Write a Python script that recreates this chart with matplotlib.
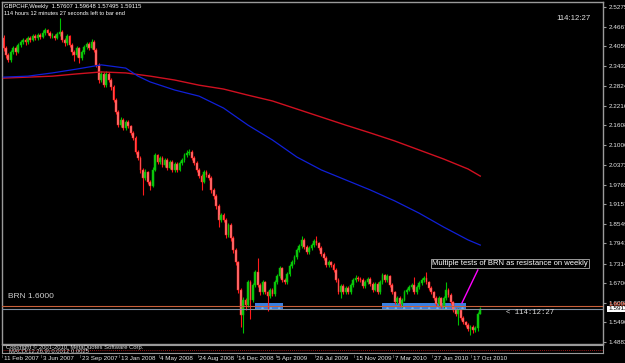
import matplotlib
matplotlib.use("Agg")
import matplotlib.pyplot as plt
import matplotlib.transforms as mtransforms
from matplotlib.patches import Rectangle
import numpy as np

plt.rcParams["hatch.linewidth"] = 0.5

# ---------------- data ----------------
symbol_line = "GBPCHF,Weekly  1.57607 1.59648 1.57495 1.59115"
timer_line = "114 hours 12 minutes 27 seconds left to bar end"
timer_short = "114:12:27"
copyright_line = "Copyright \u00a9 2001-2010, MetaQuotes Software Corp."
macd_line = "MACD(12,26,9) 0.0012 0.0025"

first_open = 2.430
closes = [
    2.400, 2.379, 2.363, 2.388, 2.400, 2.388, 2.410, 2.419, 2.425, 2.419,
    2.431, 2.425, 2.437, 2.431, 2.441, 2.434, 2.447, 2.456, 2.447, 2.437,
    2.438, 2.431, 2.444, 2.450, 2.425, 2.416, 2.437, 2.410, 2.388, 2.379,
    2.400, 2.369, 2.388, 2.403, 2.413, 2.400, 2.419, 2.394, 2.348, 2.301,
    2.320, 2.286, 2.320, 2.301, 2.279, 2.239, 2.202, 2.162, 2.177, 2.152,
    2.171, 2.158, 2.137, 2.121, 2.078, 2.059, 2.022, 1.997, 2.016, 1.985,
    1.972, 2.022, 2.068, 2.047, 2.059, 2.037, 2.053, 2.028, 2.047, 2.022,
    2.041, 2.022, 2.044, 2.053, 2.068, 2.075, 2.078, 2.059, 2.044, 2.022,
    2.003, 1.985, 2.016, 2.006, 1.997, 1.960, 1.941, 1.910, 1.867, 1.882,
    1.867, 1.820, 1.851, 1.811, 1.774, 1.736, 1.650, 1.572, 1.619, 1.603,
    1.674, 1.619, 1.665, 1.705, 1.665, 1.643, 1.674, 1.643, 1.631, 1.650,
    1.637, 1.674, 1.693, 1.718, 1.681, 1.674, 1.699, 1.724, 1.736, 1.752,
    1.774, 1.786, 1.805, 1.783, 1.768, 1.780, 1.789, 1.802, 1.795, 1.780,
    1.761, 1.749, 1.727, 1.736, 1.727, 1.712, 1.681, 1.643, 1.662, 1.643,
    1.656, 1.643, 1.665, 1.681, 1.687, 1.684, 1.681, 1.662, 1.674, 1.684,
    1.668, 1.650, 1.668, 1.643, 1.674, 1.696, 1.681, 1.693, 1.665, 1.643,
    1.612, 1.625, 1.606, 1.619, 1.643, 1.650, 1.659, 1.665, 1.643, 1.659,
    1.671, 1.681, 1.687, 1.674, 1.656, 1.643, 1.625, 1.606, 1.625, 1.600,
    1.625, 1.650, 1.634, 1.612, 1.588, 1.575, 1.587, 1.563, 1.550, 1.541,
    1.530, 1.536, 1.527, 1.532, 1.57607, 1.59115,
]
highs = [
    2.441, 2.406, 2.386, 2.394, 2.408, 2.405, 2.416, 2.426, 2.432, 2.430,
    2.437, 2.436, 2.444, 2.443, 2.448, 2.447, 2.455, 2.462, 2.460, 2.452,
    2.446, 2.443, 2.450, 2.493, 2.456, 2.431, 2.444, 2.441, 2.415, 2.394,
    2.408, 2.404, 2.394, 2.409, 2.420, 2.418, 2.428, 2.424, 2.399, 2.353,
    2.330, 2.325, 2.328, 2.327, 2.307, 2.284, 2.244, 2.207, 2.186, 2.182,
    2.178, 2.176, 2.163, 2.142, 2.126, 2.083, 2.064, 2.028, 2.024, 2.020,
    1.990, 2.030, 2.076, 2.073, 2.066, 2.064, 2.060, 2.058, 2.054, 2.052,
    2.048, 2.046, 2.051, 2.060, 2.075, 2.083, 2.087, 2.084, 2.064, 2.049,
    2.027, 2.008, 2.023, 2.022, 2.012, 2.002, 1.966, 1.946, 1.915, 1.890,
    1.888, 1.872, 1.858, 1.856, 1.816, 1.779, 1.741, 1.655, 1.628, 1.626,
    1.682, 1.680, 1.672, 1.712, 1.749, 1.670, 1.680, 1.679, 1.648, 1.657,
    1.656, 1.680, 1.700, 1.725, 1.722, 1.688, 1.705, 1.730, 1.742, 1.759,
    1.780, 1.793, 1.817, 1.810, 1.788, 1.786, 1.796, 1.808, 1.817, 1.800,
    1.785, 1.767, 1.754, 1.743, 1.741, 1.732, 1.717, 1.686, 1.668, 1.667,
    1.662, 1.661, 1.671, 1.688, 1.695, 1.693, 1.690, 1.686, 1.680, 1.690,
    1.689, 1.673, 1.675, 1.673, 1.681, 1.702, 1.700, 1.699, 1.697, 1.670,
    1.648, 1.631, 1.630, 1.626, 1.649, 1.657, 1.665, 1.672, 1.690, 1.665,
    1.677, 1.688, 1.693, 1.705, 1.679, 1.661, 1.648, 1.630, 1.631, 1.629,
    1.631, 1.674, 1.656, 1.639, 1.617, 1.593, 1.593, 1.591, 1.568, 1.555,
    1.546, 1.542, 1.541, 1.538, 1.582, 1.59648,
]
lows = [
    2.392, 2.370, 2.356, 2.358, 2.381, 2.380, 2.384, 2.404, 2.412, 2.411,
    2.414, 2.418, 2.421, 2.424, 2.426, 2.428, 2.430, 2.441, 2.440, 2.431,
    2.430, 2.424, 2.427, 2.438, 2.419, 2.406, 2.410, 2.402, 2.380, 2.360,
    2.372, 2.355, 2.362, 2.383, 2.398, 2.394, 2.396, 2.388, 2.340, 2.292,
    2.294, 2.278, 2.280, 2.294, 2.270, 2.232, 2.195, 2.155, 2.156, 2.145,
    2.147, 2.152, 2.130, 2.115, 2.070, 2.052, 2.014, 1.944, 1.990, 1.978,
    1.960, 1.968, 2.018, 2.040, 2.042, 2.030, 2.032, 2.021, 2.024, 2.016,
    2.017, 2.015, 2.018, 2.038, 2.048, 2.062, 2.068, 2.053, 2.037, 2.015,
    1.996, 1.960, 1.980, 1.999, 1.990, 1.952, 1.933, 1.900, 1.845, 1.860,
    1.860, 1.812, 1.815, 1.803, 1.765, 1.727, 1.640, 1.535, 1.516, 1.588,
    1.598, 1.560, 1.612, 1.660, 1.658, 1.634, 1.638, 1.636, 1.585, 1.626,
    1.630, 1.632, 1.668, 1.688, 1.674, 1.667, 1.669, 1.694, 1.719, 1.730,
    1.747, 1.768, 1.780, 1.776, 1.760, 1.762, 1.774, 1.784, 1.789, 1.773,
    1.754, 1.742, 1.720, 1.722, 1.720, 1.705, 1.674, 1.636, 1.625, 1.636,
    1.638, 1.636, 1.638, 1.660, 1.676, 1.678, 1.675, 1.655, 1.657, 1.669,
    1.661, 1.643, 1.645, 1.636, 1.638, 1.669, 1.675, 1.676, 1.658, 1.636,
    1.605, 1.606, 1.598, 1.598, 1.614, 1.637, 1.645, 1.653, 1.636, 1.638,
    1.654, 1.666, 1.676, 1.668, 1.650, 1.637, 1.618, 1.600, 1.601, 1.594,
    1.595, 1.620, 1.628, 1.606, 1.582, 1.568, 1.541, 1.556, 1.544, 1.535,
    1.524, 1.510, 1.515, 1.518, 1.522, 1.57495,
]

# moving averages sampled at these bars (bar index -> value)
ma_bars = [0, 10, 20, 30, 40, 50, 55, 60, 70, 80, 90, 100, 110, 120, 130,
           140, 150, 160, 170, 180, 190, 195]
ma_fast = [2.310, 2.313, 2.323, 2.335, 2.348, 2.338, 2.313, 2.295, 2.270,
           2.251, 2.214, 2.161, 2.115, 2.062, 2.022, 1.991, 1.960, 1.926,
           1.888, 1.845, 1.805, 1.789]
ma_slow = [2.307, 2.310, 2.313, 2.320, 2.326, 2.323, 2.318, 2.313, 2.301,
           2.285, 2.273, 2.254, 2.236, 2.211, 2.186, 2.161, 2.137, 2.112,
           2.084, 2.056, 2.025, 2.003]

date_labels = ["11 Feb 2007", "3 Jun 2007", "23 Sep 2007", "13 Jan 2008",
               "4 May 2008", "24 Aug 2008", "14 Dec 2008", "5 Apr 2009",
               "26 Jul 2009", "15 Nov 2009", "7 Mar 2010", "27 Jun 2010",
               "17 Oct 2010"]
date_bars = [0, 16, 32, 48, 64, 80, 96, 112, 128, 144, 160, 176, 192]

price_ticks = [2.52750, 2.46670, 2.40590, 2.34320, 2.28240, 2.22160, 2.16080,
               2.10000, 2.03730, 1.97650, 1.91570, 1.85490, 1.79410, 1.73140,
               1.67060, 1.60980, 1.54900, 1.48820]

brn_level = 1.6000
brn_label = "BRN 1.6000"
bid_price = 1.59115
last_open = 1.57607
zones = [(103.0, 114.2), (154.9, 189.3)]   # bar ranges of the blue boxes
zone_low, zone_high = 1.5876, 1.6093
trend_from = (187.5, 1.6093)
trend_to = (194.0, 1.7117)
note_text = "Multiple tests of BRN as resistance on weekly"
note_pos = (175.2, 1.7318)
countdown = "< 114:12:27"

# ---------------- layout ----------------
W, H, DPI = 625, 363, 100
SPACING = 2.445           # px per bar
FONT = ["Liberation Sans", "DejaVu Sans"]

def fx(px):
    return px / W

def fy(py):
    return 1 - py / H

fig = plt.figure(figsize=(W / DPI, H / DPI), dpi=DPI, facecolor="black")

ax = fig.add_axes([fx(2), fy(344), 601 / W, 342 / H], facecolor="black")
x_left = -(3.5 - 2) / SPACING
ax.set_xlim(x_left, x_left + 601 / SPACING)
p_top = 2.5275 + 5 * 0.003102
p_bot = 2.5275 - 337 * 0.003102
ax.set_ylim(p_bot, p_top)

for s in ax.spines.values():
    s.set_color("#9a9a9a")
    s.set_linewidth(1)

ax.set_xticks([])
ax.yaxis.tick_right()
ax.set_yticks(price_ticks)
ax.set_yticklabels([f"{v:.5f}" for v in price_ticks])
ax.tick_params(axis="y", colors="#9a9a9a", labelcolor="#e6e6e6", length=2.5,
               width=0.8, pad=1.5, labelsize=4.6)
for lab in ax.get_yticklabels():
    lab.set_family(FONT)

# zones (behind candles)
for a, b in zones:
    ax.add_patch(Rectangle((a, zone_low), b - a, zone_high - zone_low,
                           facecolor="#3a7fe0", edgecolor="#6fb0f5",
                           hatch="..", linewidth=0, zorder=1))

# candles
idx = np.arange(len(closes))
c = np.array(closes)
o = np.array([first_open] + closes[:-1])
o[-1] = last_open
up = c >= o
wick_cols = np.where(up, "#00c000", "#ff1a1a")
body_cols = np.where(up, "#10c810", "#ff7a7a")
ax.vlines(idx, lows, highs, colors=wick_cols, linewidth=0.8, zorder=2)
body_h = np.maximum(np.abs(c - o), 0.002)
ax.bar(idx, body_h, bottom=np.minimum(c, o), width=0.75, color=body_cols,
       edgecolor=wick_cols, linewidth=0.35, zorder=2.5)

# moving averages
ax.plot(ma_bars, ma_slow, color="#d01020", lw=1.0, zorder=3)
ax.plot(ma_bars, ma_fast, color="#1020d8", lw=0.9, zorder=3)

# BRN and bid lines
ax.axhline(brn_level, color="#c8603a", lw=0.8, zorder=4)
ax.axhline(bid_price, color="#8090a0", lw=0.8, zorder=4)

# trend line
ax.plot([trend_from[0], trend_to[0]], [trend_from[1], trend_to[1]],
        color="#ff00ff", lw=1.0, zorder=5)

# annotation box
ax.text(note_pos[0], note_pos[1], note_text, color="white", fontsize=5.5,
        family=FONT, ha="left", va="center", zorder=6,
        bbox=dict(facecolor="black", edgecolor="#9a9a9a", linewidth=0.7,
                  boxstyle="square,pad=0.15"))

# labels inside chart
fig.text(fx(8), fy(297), brn_label, color="#d0d0d0", fontsize=6.0,
         family=FONT, ha="left", va="center")
fig.text(fx(506), fy(313), countdown, color="#e0e0e0", fontsize=5.3,
         family=["Liberation Mono", "DejaVu Sans Mono"], ha="left", va="center")
fig.text(fx(556), fy(18), timer_short, color="#e0e0e0", fontsize=5.6,
         family=FONT, ha="left", va="center")
fig.text(fx(4), fy(6.5), symbol_line, color="white", fontsize=4.2,
         family=FONT, ha="left", va="center")
fig.text(fx(4), fy(13.5), timer_line, color="white", fontsize=4.1,
         family=FONT, ha="left", va="center")

# price labels on the axis
ytr = mtransforms.blended_transform_factory(ax.transAxes, ax.transData)
ax.text(1 + 5 / 601, 1.6035, "1.60000", transform=ytr, color="#ff5a3a",
        fontsize=4.6, family=FONT, ha="left", va="center", clip_on=False)
ax.text(1 + 5 / 601, bid_price, "1.59115", transform=ytr, color="black",
        fontsize=4.6, family=FONT, ha="left", va="center", clip_on=False,
        bbox=dict(facecolor="white", edgecolor="none", pad=0.6))

# sub window (indicator area)
sub = fig.add_axes([fx(2), fy(353), 601 / W, 8 / H], facecolor="black")
sub.set_xlim(ax.get_xlim())
sub.set_ylim(-1, 1)
sub.set_xticks([])
sub.set_yticks([])
for s in sub.spines.values():
    s.set_color("#9a9a9a")
    s.set_linewidth(0.8)
sub.axhline(-0.3, color="#d02020", lw=0.6, ls=(0, (1, 1.5)))
fig.text(fx(6), fy(347.5), copyright_line, color="#d8d8d8", fontsize=4.2,
         family=FONT, ha="left", va="center")
fig.text(fx(9), fy(351), macd_line, color="#d8d8d8", fontsize=4.2,
         family=FONT, ha="left", va="center")

# date labels
dtr = mtransforms.blended_transform_factory(ax.transData, fig.transFigure)
for b, lab in zip(date_bars, date_labels):
    fig.text(b, fy(358.5), lab, transform=dtr, color="#e6e6e6", fontsize=4.5,
             family=FONT, ha="left", va="center")
    fig.add_artist(plt.Line2D([b - 0.6, b - 0.6], [fy(354.5), fy(357)],
                              transform=dtr, color="#606060", lw=0.6))

fig.savefig("out.png", dpi=DPI, facecolor="black")
